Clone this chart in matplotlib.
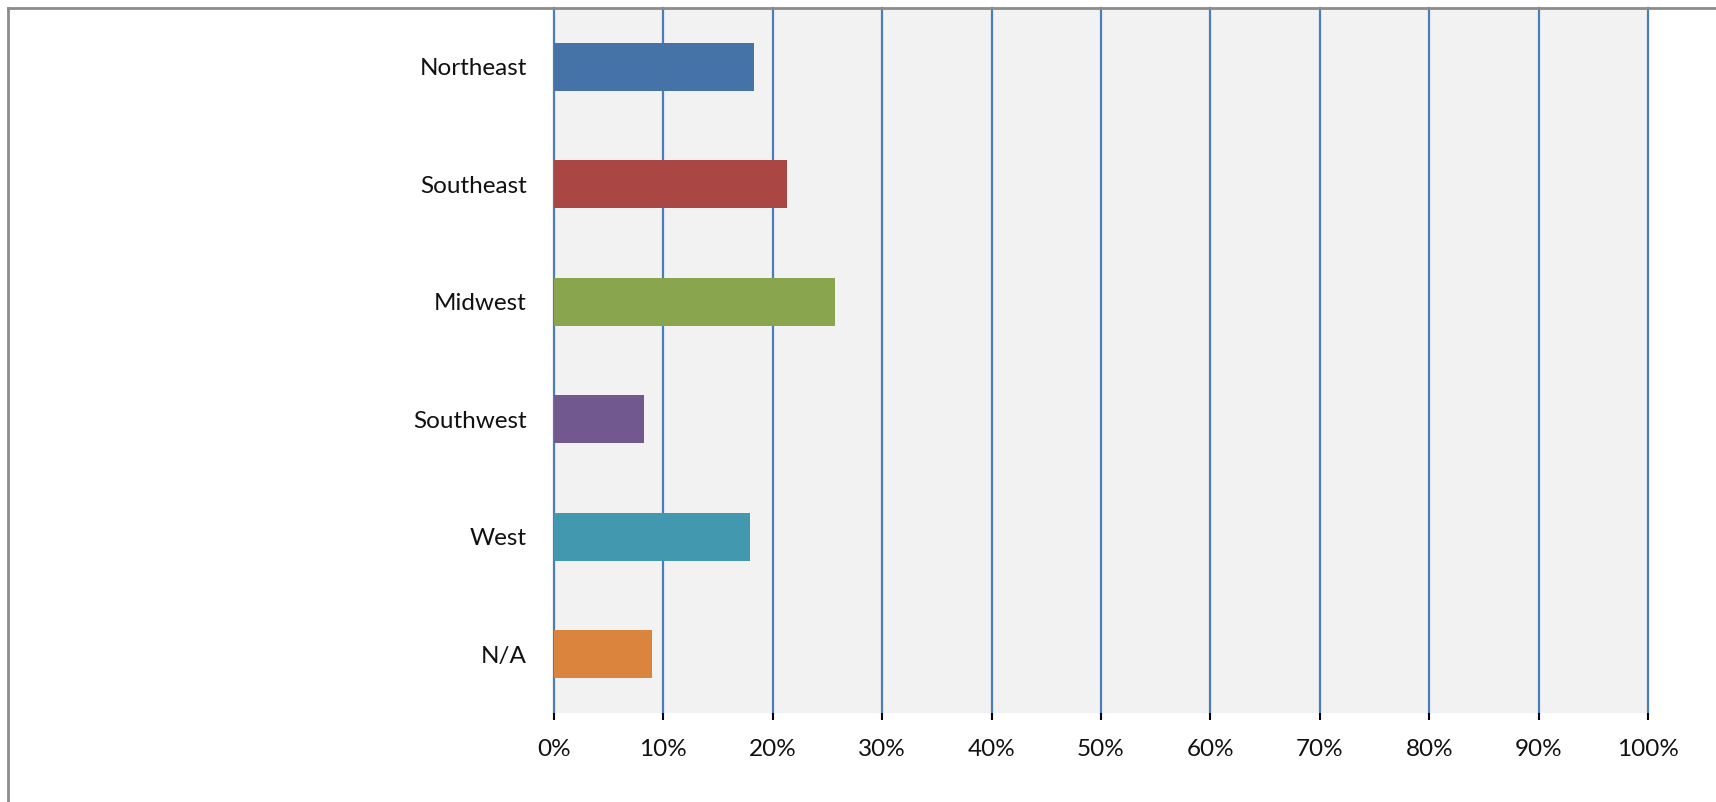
import matplotlib
matplotlib.use("Agg")
import matplotlib.pyplot as plt
from matplotlib.lines import Line2D
from matplotlib.ticker import MultipleLocator, FuncFormatter

categories = ["Northeast", "Southeast", "Midwest", "Southwest", "West", "N/A"]
values = [18.3, 21.3, 25.7, 8.2, 17.9, 9.0]
colors = ["#4573A7", "#AA4644", "#89A54E", "#71588F", "#4298AF", "#DB843D"]

plt.rcParams['font.family'] = ['Lato', 'DejaVu Sans']

W, H = 1716, 802
fig = plt.figure(figsize=(W / 100, H / 100), dpi=100)
fig.patch.set_facecolor("white")

left, right, top, bottom = 554, 1648, 8, 713
ax = fig.add_axes([left / W, 1 - bottom / H, (right - left) / W, (bottom - top) / H])
ax.set_facecolor("#F2F2F2")

ypos = list(range(len(categories)))
ax.barh(ypos, values, height=0.41, color=colors, zorder=3)
ax.set_ylim(len(categories) - 0.5, -0.5)
ax.set_xlim(0, 100)

ax.xaxis.set_major_locator(MultipleLocator(10))
ax.xaxis.set_major_formatter(FuncFormatter(lambda v, p: f"{int(round(v))}%"))
ax.grid(axis="x", color="#4A7EBB", linewidth=1.6, zorder=1)
ax.set_axisbelow(True)
for gl in ax.get_xgridlines():
    gl.set_clip_on(False)

ax.set_yticks(ypos)
ax.set_yticklabels(categories)
ax.tick_params(axis="y", length=0, pad=19.5, labelsize=17.5, labelcolor="#111111")
ax.tick_params(axis="x", length=5, width=1.5, color="black", pad=14,
               labelsize=17.5, labelcolor="#111111")

for s in ax.spines.values():
    s.set_visible(False)

# chart border (top and left visible)
fig.add_artist(Line2D([7.5 / W, 1.0], [1 - 7.5 / H, 1 - 7.5 / H],
                      transform=fig.transFigure, color="#8C8C8C", linewidth=2))
fig.add_artist(Line2D([7.5 / W, 7.5 / W], [0.0, 1 - 7.5 / H],
                      transform=fig.transFigure, color="#8C8C8C", linewidth=2))

fig.savefig("out.png", dpi=100)
